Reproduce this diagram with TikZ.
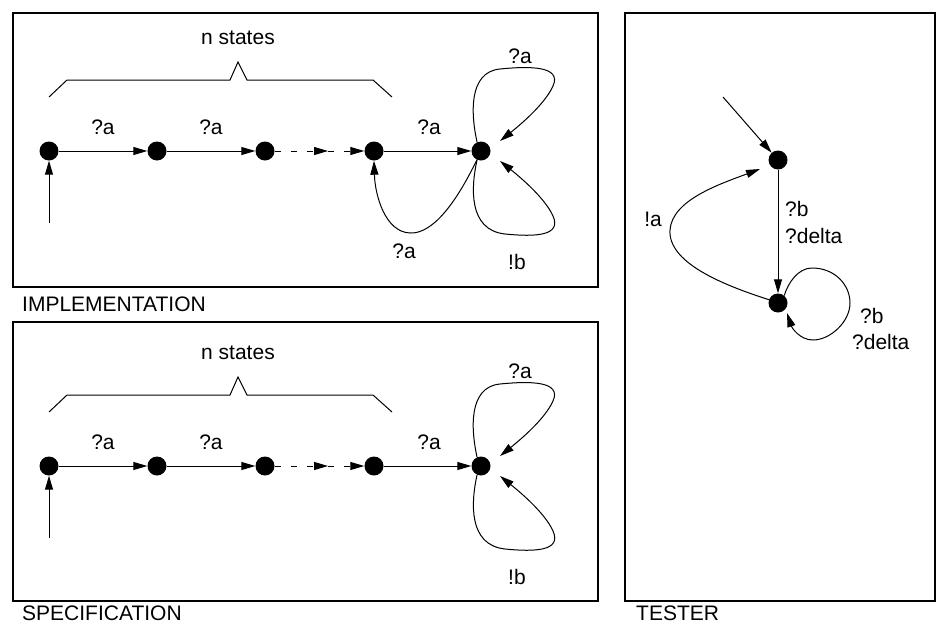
\documentclass[tikz,border=0pt]{standalone}
\usepackage{fontspec}
\setmainfont{Liberation Sans}
\usetikzlibrary{arrows.meta}
\begin{document}
\begin{tikzpicture}[x=1pt,y=-1pt,
  state/.style={circle,fill=black,inner sep=0pt,minimum size=19pt},
  lbl/.style={font=\fontsize{21}{27}\selectfont,inner sep=0pt},
  edge/.style={line width=1pt,-{Triangle[length=14pt,width=8pt]}},
  frame/.style={line width=1.1pt},
  dashedge/.style={edge,dash pattern=on 6pt off 10pt},
]
\useasboundingbox (0,0) rectangle (948,635);
% frames
\draw[frame] (13,13) rectangle (598,287);
\draw[frame] (13,322) rectangle (598,601);
\draw[frame] (625,13) rectangle (935,601);
\node[lbl,anchor=west] (limpl) at (22,304) {IMPLEMENTATION};
\node[lbl,anchor=west] (lspec) at (22,613) {SPECIFICATION};
\node[lbl,anchor=west] (ltest) at (636,613) {TESTER};
% common parts of implementation and specification
\foreach \p/\dy in {i/0,s/315}{
\begin{scope}[shift={(0,\dy)}]
  \node[state] (\p1) at (49,151) {};
  \node[state] (\p2) at (157,151) {};
  \node[state] (\p3) at (265,151) {};
  \node[state] (\p4) at (374,151) {};
  \node[state] (\p5) at (481,151) {};
  \coordinate (\p0) at (49,223);
  \coordinate (\p m) at (328,151);
  \coordinate (\p u) at (500,141);
  \coordinate (\p d) at (500,161);
  \draw[edge] (\p0) -- (\p1);
  \draw[edge] (\p1) -- (\p2);
  \draw[edge] (\p2) -- (\p3);
  \draw[dashedge] (\p3) -- (\p m);
  \draw[dashedge] (\p m) -- (\p4);
  \draw[edge] (\p4) -- (\p5);
  \draw[edge] (\p5.114) .. controls (471,115) and (468,72) .. (500,69)
     .. controls (530,66) and (562,66) .. (553,86)
     .. controls (545,104) and (520,125) .. (\p u);
  \draw[edge] (\p5.246) .. controls (471,187) and (468,230) .. (505,234)
     .. controls (535,237) and (562,236) .. (553,216)
     .. controls (545,198) and (520,177) .. (\p d);
  \draw[line width=1pt] (49,97) -- (67,80) -- (230,80) -- (238,62) -- (247,80) -- (373,80) -- (392,97);
  \node[lbl] (\p ns) at (238,38) {n states};
  \node[lbl] (\p a1) at (103,127) {?a};
  \node[lbl] (\p a2) at (211,127) {?a};
  \node[lbl] (\p a3) at (429,127) {?a};
  \node[lbl] (\p a4) at (520,56) {?a};
  \node[lbl] (\p b) at (517,262) {!b};
\end{scope}
}
% back edge of implementation
\draw[edge] (i5.-115) .. controls (455,205) and (432,234) .. (410,233)
   .. controls (385,232) and (375,195) .. (i4.south);
\node[lbl] (ia5) at (404,251) {?a};
% tester
\node[state] (t1) at (778,160) {};
\node[state] (t2) at (778,303) {};
\coordinate (t0) at (723,97);
\coordinate (tu) at (760,169);
\coordinate (tl) at (787,313);
\draw[edge] (t0) -- (t1);
\draw[edge] (t1) -- (t2);
\draw[edge] (t2.160) .. controls (720,284) and (668,262) .. (670,230)
   .. controls (672,200) and (720,184) .. (tu);
\draw[edge] (t2.50) .. controls (788,283) and (798,268) .. (812,268)
   .. controls (835,268) and (850,285) .. (850,303)
   .. controls (850,322) and (830,340) .. (813,340)
   .. controls (800,340) and (792,328) .. (tl);
\node[lbl,anchor=west,align=left] (tlab1) at (785,222) {?b\\?delta};
\node[lbl,anchor=west] (tlab2) at (860,316) {?b};
\node[lbl,anchor=west] (tlab3) at (852,342) {?delta};
\node[lbl] (tla) at (653,219) {!a};
\end{tikzpicture}
\end{document}
